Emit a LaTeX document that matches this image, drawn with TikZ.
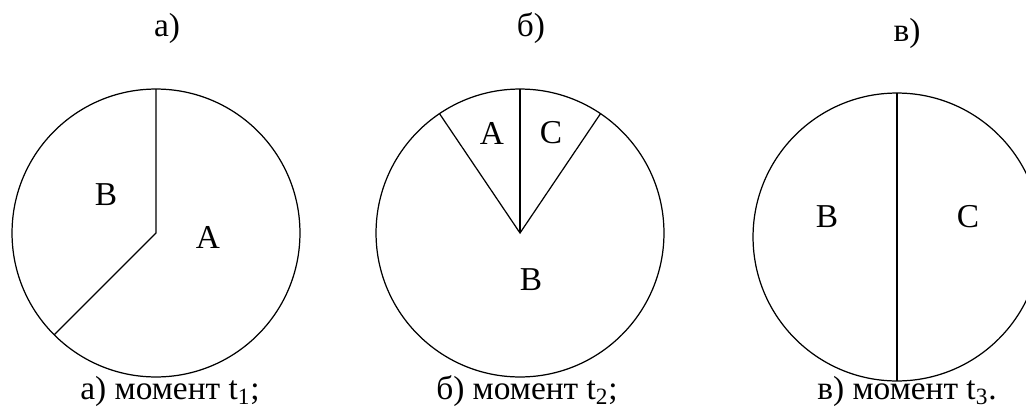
\documentclass[tikz,border=0pt]{standalone}
\usepackage{fontspec}
\setmainfont{Liberation Serif}
\usetikzlibrary{positioning}

\begin{document}
\begin{tikzpicture}[x=0.02cm, y=-0.02cm, line width=0.7pt,
  disk/.style={circle, draw, minimum size=5.76cm, inner sep=0pt, outer sep=0pt},
  lbl/.style={font=\fontsize{19}{21}\selectfont, inner sep=0pt}]
\useasboundingbox (0,0) rectangle (1026,409);

% moment t1
\node[lbl] (ta) at (167,28) {а)};
\node[disk] (c1) at (156,233) {};
\draw (c1.90) -- (c1.center) -- (c1.225);
\node[lbl] (b1) at (106,195) {B};
\node[lbl] (a1) at (208,237) {A};
\node[lbl] (capa) at (170,391) {а) момент t\textsubscript{1};};

% moment t2
\node[lbl] (tb) at (531,28) {б)};
\node[disk] (c2) at (520,233) {};
\draw (c2.90) -- (c2.center);
\draw (c2.124) -- (c2.center) -- (c2.56);
\node[lbl] (a2) at (492,133) {A};
\node[lbl] (cc2) at (551,133) {C};
\node[lbl] (b2) at (531,280) {B};
\node[lbl] (capb) at (527,391) {б) момент t\textsubscript{2};};

% moment t3
\node[lbl] (tc) at (907,33) {в)};
\node[disk] (c3) at (897,237) {};
\draw (c3.90) -- (c3.270);
\node[lbl] (b3) at (827,217) {B};
\node[lbl] (cc3) at (968,217) {C};
\node[lbl] (capc) at (907,391) {в) момент t\textsubscript{3}.};
\end{tikzpicture}
\end{document}
